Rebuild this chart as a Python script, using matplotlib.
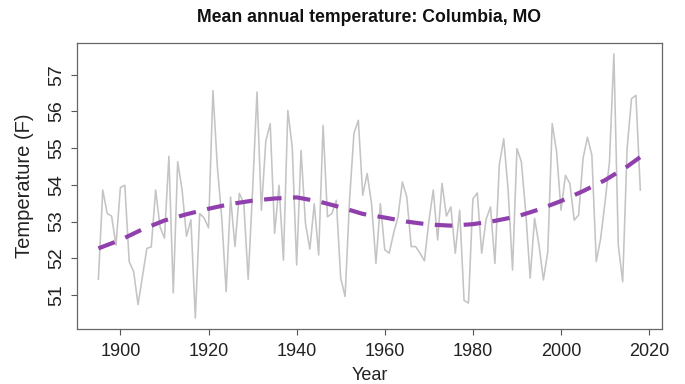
import matplotlib
matplotlib.use("Agg")
import matplotlib.pyplot as plt
import numpy as np

plt.rcParams['font.family'] = ['Liberation Sans', 'DejaVu Sans']

# annual mean temperature, Columbia MO
years = np.arange(1895, 2019)
temps = [
    51.43, 53.86, 53.22, 53.15, 52.36,                          # 1895-1899
    53.93, 53.99, 51.91, 51.64, 50.74, 51.50, 52.27, 52.31, 53.86, 52.85,  # 1900s
    52.55, 54.78, 51.06, 54.63, 53.86, 52.60, 53.05, 50.37, 53.22, 53.10,  # 1910s
    52.83, 56.57, 54.50, 53.10, 51.09, 53.67, 52.32, 53.77, 53.50, 51.43,  # 1920s
    53.85, 56.53, 53.31, 55.19, 55.67, 52.68, 53.99, 51.95, 56.03, 55.03,  # 1930s
    51.82, 54.94, 52.95, 52.25, 53.49, 52.09, 55.62, 53.13, 53.22, 53.58,  # 1940s
    51.46, 50.96, 53.58, 55.40, 55.76, 53.72, 54.31, 53.49, 51.86, 53.49,  # 1950s
    52.23, 52.14, 52.68, 53.13, 54.08, 53.67, 52.32, 52.32, 52.14, 51.93,  # 1960s
    53.00, 53.86, 52.50, 54.04, 53.15, 53.40, 52.14, 53.31, 50.85, 50.78,  # 1970s
    53.62, 53.78, 52.14, 53.06, 53.40, 51.86, 54.55, 55.26, 53.85, 51.68,  # 1980s
    54.99, 54.63, 53.25, 51.46, 53.09, 52.36, 51.41, 52.18, 55.67, 54.90,  # 1990s
    53.31, 54.26, 54.04, 53.04, 53.18, 54.72, 55.30, 54.81, 51.91, 52.54,  # 2000s
    53.54, 54.63, 57.57, 52.36, 51.36, 54.99, 56.35, 56.44, 53.86,         # 2010s
]

# smooth trend (dashed purple), read at a few years
trend_years = [1895, 1900, 1905, 1910, 1915, 1920, 1925, 1930, 1935, 1940,
               1945, 1950, 1955, 1960, 1965, 1970, 1975, 1980, 1985, 1990,
               1995, 2000, 2005, 2010, 2015, 2018]
trend_vals = [52.27, 52.50, 52.79, 53.03, 53.20, 53.35, 53.48, 53.57, 53.63, 53.66,
              53.55, 53.39, 53.21, 53.11, 53.00, 52.92, 52.89, 52.93, 53.02, 53.14,
              53.33, 53.56, 53.83, 54.13, 54.50, 54.76]

xticks = [1900, 1920, 1940, 1960, 1980, 2000, 2020]
yticks = [51, 52, 53, 54, 55, 56, 57]

fig = plt.figure(figsize=(6.85, 3.84), dpi=100)
ax = fig.add_axes([76.7 / 685, 1 - 328.7 / 384, (662 - 76.7) / 685, (328.7 - 43.3) / 384])

ax.plot(years, temps, color='#c4c4c4', lw=1.15)
ax.plot(trend_years, trend_vals, color='#9040ac', lw=3.0, dashes=(4.2, 2.75),
        dash_capstyle='butt')

# R-style 4% padding
xr = years[-1] - years[0]
yr = max(temps) - min(temps)
ax.set_xlim(years[0] - 0.04 * xr, years[-1] + 0.04 * xr)
ax.set_ylim(min(temps) - 0.04 * yr, max(temps) + 0.04 * yr)

ax.set_xticks(xticks)
ax.set_yticks(yticks)
ax.tick_params(axis='both', direction='out', length=4.5, width=0.8, color='#555555',
               labelcolor='#222222')
ax.tick_params(axis='x', labelsize=13, pad=5.5)
ax.tick_params(axis='y', labelsize=14, labelrotation=90, pad=4)
for lab in ax.get_yticklabels():
    lab.set_va('center')

for sp in ax.spines.values():
    sp.set_color('#666666')
    sp.set_linewidth(0.9)

ax.set_xlabel('Year', fontsize=13, color='#222222', labelpad=5.5)
ax.set_ylabel('Temperature (F)', fontsize=14.5, color='#222222', labelpad=10)
fig.text(369 / 685, 1 - 18 / 384, 'Mean annual temperature: Columbia, MO',
         ha='center', va='center', fontsize=12.7, fontweight='bold', color='#111111')

fig.savefig('out.png', dpi=100)
